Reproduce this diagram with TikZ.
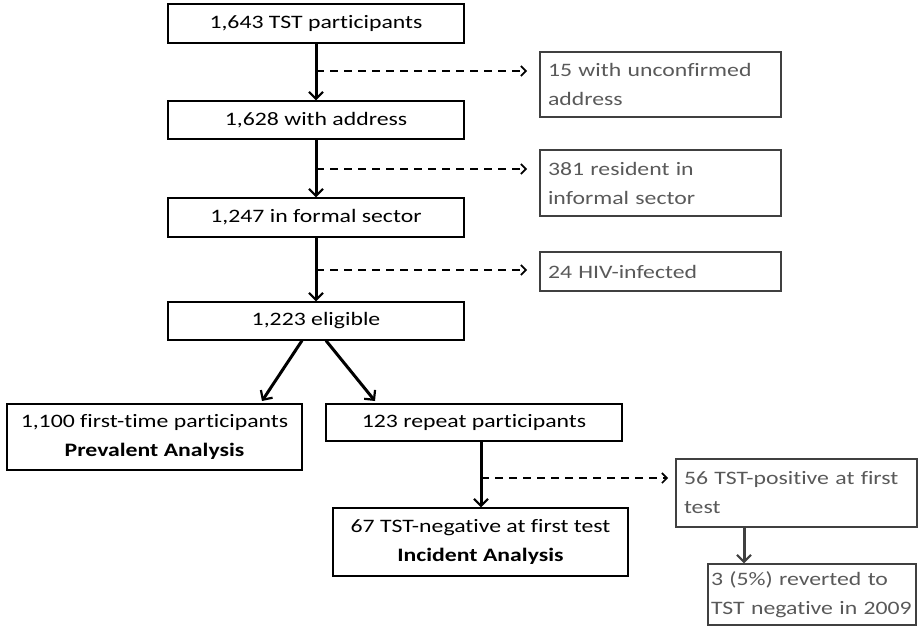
\documentclass[tikz,border=0pt]{standalone}
\usepackage{fontspec}
\setmainfont{Carlito}[FakeStretch=1.25, Ligatures={NoCommon}]
\usetikzlibrary{arrows.meta}
\definecolor{greytext}{HTML}{595959}
\definecolor{greyline}{HTML}{404040}
\tikzset{
  mainbox/.style={draw=black, line width=1.2pt, inner sep=0pt, align=center, font=\fontsize{19}{29}\selectfont},
  exbox/.style={draw=greyline, line width=1.2pt, inner sep=0pt, align=left, text=greytext, font=\fontsize{19}{29}\selectfont},
  flow/.style={line width=3pt, -{Straight Barb[length=7pt,width=14pt,line width=2.2pt]}},
  exflow/.style={line width=1.6pt, dash pattern=on 8pt off 6pt, -{Straight Barb[length=5pt,width=10pt,line width=1.6pt]}},
  greyflow/.style={draw=greyline, line width=3pt, -{Straight Barb[length=7pt,width=14pt,line width=2.2pt]}}
}
\begin{document}
\begin{tikzpicture}[x=1pt,y=-1pt]
\useasboundingbox (0,0) rectangle (924,635);
% main column
\node[mainbox, minimum width=296pt, minimum height=39pt] (b1) at (316,23.5) {1,643 TST participants};
\node[mainbox, minimum width=296pt, minimum height=38pt] (b2) at (316,120) {1,628 with address};
\node[mainbox, minimum width=296pt, minimum height=39pt] (b3) at (316,217.5) {1,247 in formal sector};
\node[mainbox, minimum width=296pt, minimum height=38pt] (b4) at (316,321) {1,223 eligible};
\node[mainbox, minimum width=295pt, minimum height=66pt] (b5) at (154.5,437) {1,100 first-time participants\\\textbf{Prevalent Analysis}};
\node[mainbox, minimum width=296pt, minimum height=37pt] (b6) at (474,422.5) {123 repeat participants};
\node[mainbox, minimum width=295pt, minimum height=68pt] (b7) at (480.5,542) {67 TST-negative at first test\\\textbf{Incident Analysis}};
% exclusion boxes
\node[exbox, minimum width=241pt, minimum height=65pt, text width=225pt] (e1) at (660.5,84.5) {15 with unconfirmed\\address};
\node[exbox, minimum width=241pt, minimum height=66pt, text width=225pt] (e2) at (660.5,183) {381 resident in\\informal sector};
\node[exbox, minimum width=241pt, minimum height=39pt, text width=225pt] (e3) at (660.5,271.5) {24 HIV-infected};
\node[exbox, minimum width=241pt, minimum height=68pt, text width=225pt] (e4) at (796.5,493) {56 TST-positive at first\\test};
\node[exbox, minimum width=208pt, minimum height=61pt, text width=202pt] (e5) at (812,594.5) {3 (5\%) reverted to\\TST negative in 2009};
% branch points
\coordinate (j1) at (316,71);
\coordinate (j2) at (316,169);
\coordinate (j3) at (316,270);
\coordinate (j4) at (481,478);
\coordinate (t1) at (527,71);
\coordinate (t2) at (527,169);
\coordinate (t3) at (527,270);
\coordinate (t4) at (668,478);
% solid arrows
\draw[flow] (b1.south) -- (b2.north);
\draw[flow] (b2.south) -- (b3.north);
\draw[flow] (b3.south) -- (b4.north);
\draw[flow] (b4.south -| 302,0) -- (262,401);
\draw[flow] (b4.south -| 326,0) -- (375,401);
\draw[flow] (b6.south -| j4) -- (b7.north -| j4);
\draw[greyflow] (e4.south -| 744,0) -- (e5.north -| 744,0);
% dashed arrows
\draw[exflow] (j1) -- (t1);
\draw[exflow] (j2) -- (t2);
\draw[exflow] (j3) -- (t3);
\draw[exflow] (j4) -- (t4);
\end{tikzpicture}
\end{document}
